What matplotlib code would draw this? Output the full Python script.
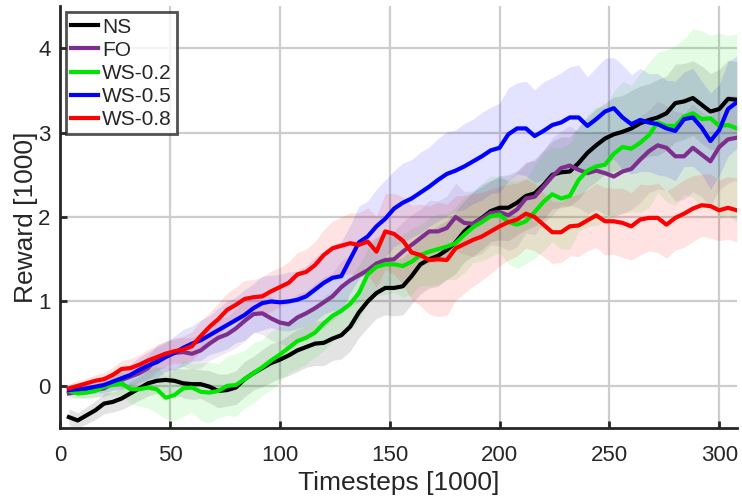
import numpy as np
import matplotlib
matplotlib.use("Agg")
import matplotlib.pyplot as plt

# timesteps [1000]
steps = np.arange(4, 309, 4)

ns = [-0.37, -0.41, -0.35, -0.29, -0.21, -0.19, -0.15, -0.09, -0.03, 0.03,
      0.06, 0.07, 0.06, 0.03, 0.02, 0.02, -0.01, -0.06, -0.05, -0.02,
      0.08, 0.15, 0.21, 0.27, 0.31, 0.36, 0.42, 0.46, 0.50, 0.51,
      0.56, 0.60, 0.70, 0.87, 1.00, 1.10, 1.16, 1.16, 1.18, 1.30,
      1.44, 1.50, 1.54, 1.61, 1.70, 1.83, 1.92, 1.99, 2.07, 2.11,
      2.11, 2.17, 2.25, 2.28, 2.38, 2.50, 2.53, 2.54, 2.64, 2.76,
      2.85, 2.93, 2.98, 3.01, 3.05, 3.11, 3.15, 3.18, 3.23, 3.35,
      3.37, 3.41, 3.33, 3.25, 3.28, 3.40, 3.39]
fo = [-0.09, -0.07, -0.06, -0.05, -0.03, 0.03, 0.07, 0.11, 0.15, 0.21,
      0.33, 0.38, 0.39, 0.40, 0.38, 0.42, 0.50, 0.57, 0.61, 0.68,
      0.77, 0.85, 0.86, 0.80, 0.75, 0.73, 0.81, 0.86, 0.92, 0.99,
      1.06, 1.17, 1.25, 1.31, 1.37, 1.45, 1.49, 1.50, 1.59, 1.67,
      1.75, 1.83, 1.83, 1.87, 2.00, 1.93, 1.92, 1.98, 2.05, 2.06,
      2.02, 2.09, 2.22, 2.24, 2.36, 2.48, 2.58, 2.61, 2.56, 2.52,
      2.55, 2.52, 2.48, 2.54, 2.57, 2.68, 2.78, 2.85, 2.82, 2.72,
      2.72, 2.82, 2.74, 2.66, 2.83, 2.92, 2.94]
ws02 = [-0.06, -0.09, -0.08, -0.06, -0.01, 0.01, 0.03, -0.04, -0.04, -0.02,
        -0.04, -0.14, -0.11, -0.03, -0.02, -0.07, -0.08, -0.06, 0.00, 0.01,
        0.08, 0.15, 0.22, 0.30, 0.37, 0.45, 0.53, 0.57, 0.63, 0.74,
        0.83, 0.89, 0.97, 1.10, 1.32, 1.41, 1.44, 1.44, 1.42, 1.47,
        1.55, 1.59, 1.62, 1.65, 1.69, 1.79, 1.88, 1.94, 2.01, 2.03,
        1.94, 1.91, 1.95, 2.06, 2.18, 2.27, 2.22, 2.25, 2.44, 2.55,
        2.60, 2.62, 2.75, 2.83, 2.81, 2.88, 2.97, 3.12, 3.08, 3.08,
        3.19, 3.23, 3.16, 3.17, 3.08, 3.09, 3.05]
ws05 = [-0.05, -0.04, -0.03, -0.01, 0.01, 0.05, 0.09, 0.13, 0.19, 0.24,
        0.28, 0.34, 0.39, 0.45, 0.50, 0.54, 0.60, 0.66, 0.72, 0.78,
        0.84, 0.92, 0.98, 1.00, 0.99, 1.00, 1.02, 1.06, 1.14, 1.22,
        1.28, 1.30, 1.50, 1.70, 1.77, 1.89, 1.98, 2.10, 2.17, 2.22,
        2.29, 2.36, 2.44, 2.51, 2.55, 2.60, 2.66, 2.72, 2.79, 2.82,
        2.98, 3.05, 3.05, 2.96, 3.02, 3.09, 3.12, 3.18, 3.18, 3.08,
        3.16, 3.25, 3.29, 3.18, 3.10, 3.15, 3.12, 3.10, 3.05, 3.02,
        3.16, 3.18, 3.06, 2.90, 3.03, 3.28, 3.36]
ws08 = [-0.03, 0.00, 0.03, 0.06, 0.08, 0.13, 0.20, 0.21, 0.25, 0.30,
        0.34, 0.38, 0.41, 0.43, 0.47, 0.59, 0.70, 0.79, 0.90, 0.96,
        1.03, 1.05, 1.06, 1.12, 1.17, 1.22, 1.32, 1.35, 1.43, 1.55,
        1.63, 1.66, 1.69, 1.67, 1.71, 1.59, 1.83, 1.80, 1.72, 1.58,
        1.55, 1.49, 1.50, 1.49, 1.63, 1.68, 1.73, 1.77, 1.83, 1.89,
        1.94, 1.97, 2.04, 2.00, 1.91, 1.82, 1.82, 1.89, 1.90, 1.96,
        2.02, 1.95, 1.95, 1.93, 1.89, 1.97, 1.99, 1.99, 1.91, 1.99,
        2.04, 2.10, 2.14, 2.13, 2.08, 2.11, 2.08]

# half widths of the shaded bands
ns_hw = [0.10, 0.09, 0.10, 0.11, 0.12, 0.12, 0.13, 0.14, 0.14, 0.15,
         0.15, 0.16, 0.15, 0.17, 0.18, 0.17, 0.19, 0.20, 0.19, 0.20,
         0.21, 0.20, 0.22, 0.23, 0.22, 0.24, 0.25, 0.24, 0.26, 0.27,
         0.26, 0.28, 0.29, 0.30, 0.31, 0.30, 0.32, 0.33, 0.34, 0.33,
         0.35, 0.34, 0.36, 0.35, 0.37, 0.36, 0.38, 0.37, 0.36, 0.38,
         0.39, 0.38, 0.40, 0.39, 0.41, 0.40, 0.42, 0.41, 0.43, 0.42,
         0.43, 0.42, 0.44, 0.43, 0.45, 0.44, 0.43, 0.45, 0.44, 0.46,
         0.45, 0.44, 0.46, 0.45, 0.47, 0.46, 0.45]
fo_hw = [0.06, 0.07, 0.08, 0.08, 0.10, 0.09, 0.11, 0.12, 0.13, 0.14,
         0.16, 0.15, 0.18, 0.17, 0.19, 0.21, 0.20, 0.22, 0.21, 0.23,
         0.24, 0.22, 0.25, 0.26, 0.24, 0.27, 0.28, 0.26, 0.29, 0.30,
         0.28, 0.31, 0.30, 0.32, 0.33, 0.31, 0.34, 0.33, 0.35, 0.36,
         0.34, 0.37, 0.36, 0.38, 0.40, 0.37, 0.39, 0.41, 0.38, 0.40,
         0.42, 0.44, 0.41, 0.45, 0.43, 0.46, 0.44, 0.47, 0.45, 0.48,
         0.46, 0.49, 0.47, 0.50, 0.48, 0.51, 0.49, 0.52, 0.50, 0.53,
         0.51, 0.52, 0.50, 0.53, 0.51, 0.52, 0.50]
ws02_hw = [0.05, 0.06, 0.07, 0.08, 0.10, 0.12, 0.14, 0.17, 0.20, 0.24,
           0.28, 0.25, 0.30, 0.33, 0.29, 0.34, 0.36, 0.32, 0.35, 0.37,
           0.34, 0.36, 0.33, 0.35, 0.32, 0.30, 0.33, 0.31, 0.29, 0.32,
           0.30, 0.28, 0.31, 0.33, 0.30, 0.34, 0.36, 0.33, 0.37, 0.39,
           0.36, 0.40, 0.42, 0.39, 0.43, 0.45, 0.42, 0.46, 0.48, 0.45,
           0.49, 0.52, 0.50, 0.55, 0.58, 0.56, 0.60, 0.63, 0.61, 0.66,
           0.70, 0.68, 0.74, 0.78, 0.75, 0.82, 0.86, 0.83, 0.90, 0.95,
           0.92, 1.00, 1.05, 0.98, 1.10, 1.06, 1.12]
ws05_hw = [0.05, 0.06, 0.07, 0.08, 0.09, 0.10, 0.12, 0.13, 0.15, 0.16,
           0.18, 0.17, 0.20, 0.22, 0.21, 0.24, 0.23, 0.26, 0.28, 0.27,
           0.30, 0.29, 0.32, 0.31, 0.33, 0.35, 0.34, 0.36, 0.38, 0.37,
           0.39, 0.41, 0.40, 0.43, 0.42, 0.44, 0.46, 0.45, 0.47, 0.46,
           0.48, 0.47, 0.49, 0.50, 0.48, 0.51, 0.50, 0.52, 0.51, 0.53,
           0.55, 0.54, 0.56, 0.55, 0.58, 0.56, 0.59, 0.60, 0.62, 0.58,
           0.61, 0.63, 0.60, 0.62, 0.59, 0.61, 0.58, 0.60, 0.57, 0.59,
           0.56, 0.58, 0.55, 0.57, 0.54, 0.56, 0.55]
ws08_hw = [0.05, 0.06, 0.06, 0.07, 0.08, 0.09, 0.10, 0.11, 0.12, 0.13,
           0.14, 0.15, 0.14, 0.16, 0.17, 0.18, 0.17, 0.19, 0.20, 0.21,
           0.22, 0.21, 0.23, 0.24, 0.23, 0.25, 0.26, 0.27, 0.28, 0.30,
           0.32, 0.34, 0.36, 0.38, 0.40, 0.42, 0.45, 0.48, 0.52, 0.56,
           0.60, 0.64, 0.68, 0.66, 0.62, 0.58, 0.55, 0.52, 0.50, 0.47,
           0.45, 0.43, 0.41, 0.40, 0.38, 0.37, 0.36, 0.35, 0.37, 0.36,
           0.38, 0.40, 0.39, 0.41, 0.40, 0.42, 0.39, 0.41, 0.40, 0.38,
           0.40, 0.39, 0.37, 0.38, 0.36, 0.37, 0.38]

labels = ["NS", "FO", "WS-0.2", "WS-0.5", "WS-0.8"]
colors = ["#000000", "#7E2F8E", "#00E600", "#0000FF", "#FF0000"]
means = [ns, fo, ws02, ws05, ws08]
widths = [ns_hw, fo_hw, ws02_hw, ws05_hw, ws08_hw]

plt.rcParams["font.family"] = ["Liberation Sans", "DejaVu Sans"]
text_col = "#262626"

fig = plt.figure(figsize=(7.42, 5.03), dpi=100)
ax = fig.add_axes([0.081, 0.149, 0.912, 0.839])

for m, w, c in zip(means, widths, colors):
    m = np.array(m)
    w = np.array(w)
    ax.fill_between(steps, m - w, m + w, color=c, alpha=0.11, linewidth=0)

for m, c, lab in zip(means, colors, labels):
    ax.plot(steps, m, color=c, linewidth=3, label=lab)

ax.set_xlim(0, 308)
ax.set_ylim(-0.5, 4.5)
ax.set_xticks([0, 50, 100, 150, 200, 250, 300])
ax.set_yticks([0, 1, 2, 3, 4])
ax.grid(True, color="#cdcdcd", linewidth=1.6)
ax.set_axisbelow(True)

for s in ["top", "right"]:
    ax.spines[s].set_visible(False)
for s in ["left", "bottom"]:
    ax.spines[s].set_linewidth(2)
    ax.spines[s].set_color(text_col)
ax.tick_params(direction="in", length=5, width=2, labelsize=16,
               colors=text_col)
ax.tick_params(axis="x", pad=12)
ax.tick_params(axis="y", pad=7)

ax.set_xlabel("Timesteps [1000]", fontsize=19, color=text_col, labelpad=4)
ax.set_ylabel("Reward [1000]", fontsize=19, color=text_col, labelpad=0)

leg = ax.legend(loc="upper left", bbox_to_anchor=(0.008, 0.985), fontsize=15,
                frameon=True, fancybox=False, edgecolor=text_col,
                handlelength=1.3, handletextpad=0.2, labelspacing=0.2,
                borderpad=0.25, borderaxespad=0)
leg.get_frame().set_linewidth(2)
for t in leg.get_texts():
    t.set_color(text_col)

fig.savefig("out.png", dpi=100)
